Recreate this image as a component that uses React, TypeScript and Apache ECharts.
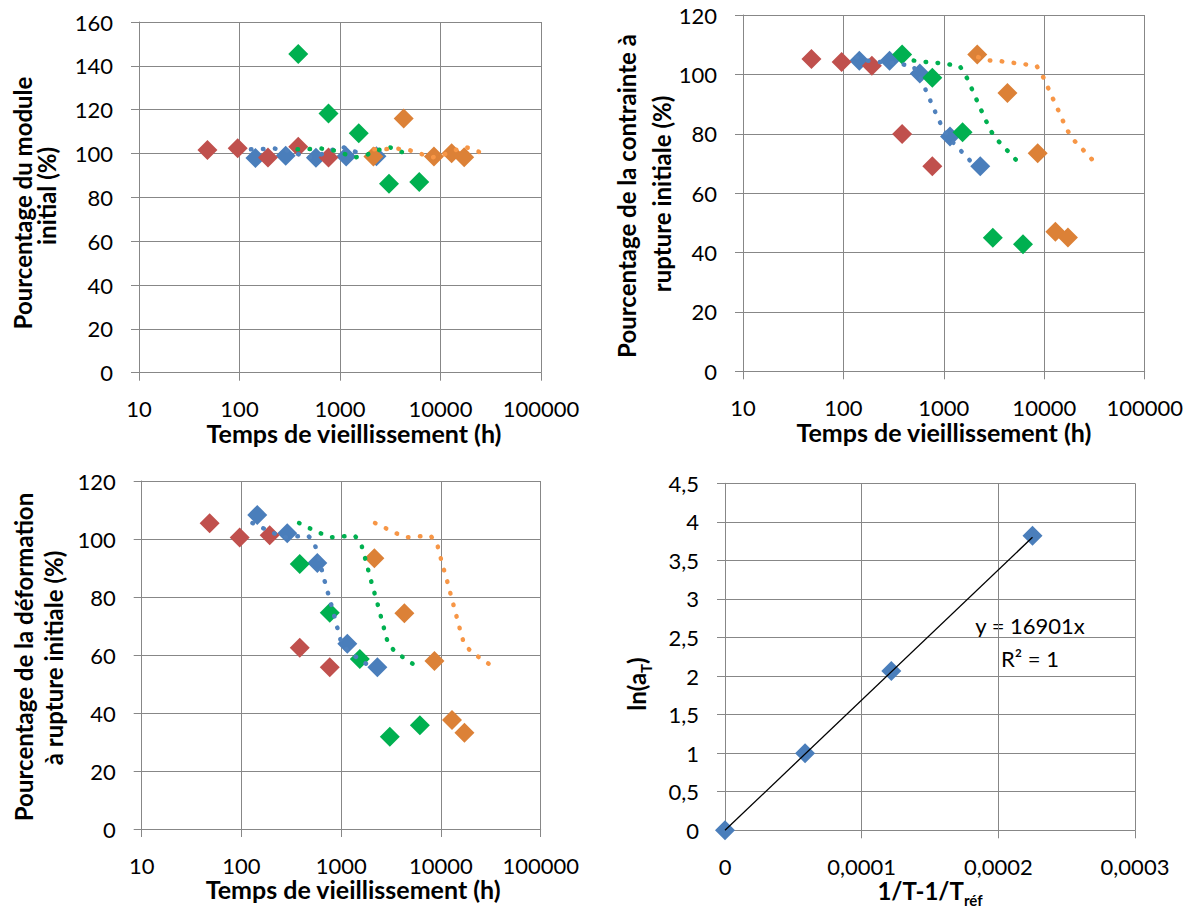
import React, { useEffect, useRef } from "react";
import * as echarts from "echarts";

// ---- data: aging times (h) per series ----
const timeRed = [48, 96, 192, 384, 768];
const timeBlue = [144, 288, 576, 1152, 2304];
const timeGreen = [384, 768, 1536, 3072, 6144];
const timeOrange = [2150, 4300, 8600, 12900, 17200];

// ---- panel 1: % initial modulus ----
const moduleRed = [101.6, 102.4, 98.2, 103.1, 98.2];
const moduleBlue = [97.9, 99.0, 98.1, 98.6, 98.8];
const moduleGreen = [145.4, 118.3, 109.2, 86.2, 87.0];
const moduleOrange = [98.6, 116.0, 98.6, 100.1, 98.3];
const moduleCurveBlue = [[130, 101.9], [169, 102.0], [220, 102.3], [288, 101.6], [375, 99.9], [488, 98.2], [640, 99.5], [820, 101.5], [1040, 103.1], [1337, 101.3], [1710, 99.3]];
const moduleCurveGreen = [[378, 101.9], [491, 102.0], [643, 102.3], [838, 101.6], [1090, 99.9], [1420, 98.2], [1860, 99.5], [2390, 101.5], [3030, 103.1], [3890, 101.1], [5010, 99.3]];
const moduleCurveOrange = [[2200, 101.9], [2850, 102.0], [3720, 102.2], [4860, 101.6], [6310, 99.9], [8250, 98.2], [10800, 99.5], [13900, 101.5], [17540, 103.1], [22540, 101.3], [29040, 99.3]];

// ---- panel 2: % initial stress at break ----
const stressRed = [105.2, 104.2, 102.9, 79.9, 69.1];
const stressBlue = [104.6, 104.6, 100.3, 79.1, 69.1];
const stressGreen = [106.7, 98.9, 80.5, 45.0, 42.8];
const stressOrange = [106.7, 93.7, 73.4, 47.0, 45.1];
const stressCurveBlue = [[135, 105.8], [168, 104.7], [221, 104.2], [291, 103.9], [380, 103.4], [493, 102.8], [566, 99.7], [635, 96.0], [707, 92.4], [786, 88.8], [875, 85.2], [989, 81.5], [1147, 78.2], [1376, 75.4], [1652, 72.5], [1985, 69.6]];
const stressCurveGreen = [[385, 105.8], [490, 104.7], [645, 104.2], [850, 103.9], [1110, 103.4], [1440, 102.8], [1650, 99.7], [1850, 96.0], [2060, 92.4], [2290, 88.8], [2570, 85.2], [2860, 81.5], [3340, 78.2], [4010, 75.4], [4820, 72.5], [5790, 69.6]];
const stressCurveOrange = [[2200, 105.8], [2860, 104.7], [3770, 104.4], [4900, 103.9], [6400, 103.4], [8420, 102.8], [9570, 99.7], [10740, 96.0], [11960, 92.4], [13420, 88.8], [14940, 85.2], [16750, 81.5], [19220, 78.2], [23110, 75.4], [27790, 72.5], [33370, 69.6]];

// ---- panel 3: % initial strain at break ----
const strainRed = [105.4, 100.5, 101.3, 62.5, 55.8];
const strainBlue = [108.3, 102.0, 91.7, 63.9, 55.8];
const strainGreen = [91.4, 74.6, 58.6, 31.8, 35.8];
const strainOrange = [93.4, 74.4, 57.9, 37.6, 33.2];
const strainCurveBlue = [[129, 105.5], [165, 103.7], [211, 102.0], [270, 100.6], [356, 100.9], [467, 101.1], [536, 98.9], [579, 94.8], [621, 90.9], [665, 87.0], [713, 83.1], [769, 79.2], [824, 75.3], [883, 71.4], [946, 67.5], [1014, 63.6], [1219, 60.8], [1525, 58.5], [1921, 56.2]];
const strainCurveGreen = [[378, 105.5], [483, 103.7], [618, 102.0], [791, 100.6], [1042, 100.9], [1365, 101.1], [1567, 98.9], [1692, 94.8], [1814, 90.9], [1944, 87.0], [2083, 83.1], [2250, 79.2], [2411, 75.3], [2583, 71.4], [2768, 67.5], [2966, 63.6], [3566, 60.8], [4464, 58.5], [5626, 56.2]];
const strainCurveOrange = [[2183, 105.5], [2793, 103.7], [3540, 102.0], [4537, 100.6], [5984, 100.9], [7820, 101.1], [9060, 98.9], [9710, 94.8], [10400, 90.9], [11240, 87.0], [12040, 83.1], [12900, 79.2], [13830, 75.3], [14820, 71.4], [15880, 67.5], [17150, 63.6], [20610, 60.8], [25810, 58.5], [32500, 56.2]];

// ---- panel 4: shift factors ----
const invTemp = [0, 0.0000586, 0.0001217, 0.000225];
const lnAT = [0, 1.0, 2.066, 3.82];
const trendLine = [[0, 0], [0.000225, 3.8]];
const trendEquation = "y = 16901x";
const trendR2 = "R² = 1";

const C_BLUE = "#4a7ebb";
const C_RED = "#c0504d";
const C_GREEN = "#00b050";
const C_ORANGE = "#dc8137";
const L_BLUE = "#4f81bd";
const L_GREEN = "#00b050";
const L_ORANGE = "#f79646";
const GRID = "#878787";
const FONT = "Lato";

const pairs = (xs: number[], ys: number[]) => xs.map((x, i) => [x, ys[i]]);

const scatter = (i: number, data: number[][], color: string) => ({
  type: "scatter",
  xAxisIndex: i,
  yAxisIndex: i,
  data,
  symbol: "diamond",
  symbolSize: 20,
  itemStyle: { color, opacity: 1 },
  z: 3,
  silent: true,
});

const curve = (i: number, data: number[][], color: string) => ({
  type: "line",
  xAxisIndex: i,
  yAxisIndex: i,
  data,
  symbol: "none",
  showSymbol: false,
  lineStyle: { color, width: 4.5, type: [0.5, 11.5], cap: "round" },
  z: 4,
  silent: true,
});

const lineStyle = { color: GRID, width: 1 };

const logX = (i: number, shift: number) => ({
  type: "log",
  gridIndex: i,
  logBase: 10,
  min: 10,
  max: 100000,
  axisLine: { show: true, lineStyle },
  axisTick: { show: true, length: 8, lineStyle },
  splitLine: { show: true, lineStyle },
  axisLabel: { color: "#000", fontFamily: FONT, fontSize: 22, margin: 25, formatter: (v: number) => String(Math.round(v)) },
  name: "Temps de vieillissement (h)",
  nameLocation: "middle",
  nameGap: 35,
  nameTextStyle: { color: "#000", fontFamily: FONT, fontSize: 25, fontWeight: "bold", padding: [0, 0, 0, shift] },
});

const valY = (i: number, max: number, interval: number, fmt?: (v: number) => string) => ({
  type: "value",
  gridIndex: i,
  min: 0,
  max,
  interval,
  axisLine: { show: true, lineStyle },
  axisTick: { show: true, length: 8, lineStyle },
  splitLine: { show: true, lineStyle },
  axisLabel: { color: "#000", fontFamily: FONT, fontSize: 22, margin: 26, formatter: fmt },
});

const vText = (x: number, y: number, text: string) => ({
  type: "text",
  x,
  y,
  rotation: Math.PI / 2,
  style: { text, fontFamily: FONT, fontSize: 24, fontWeight: "bold", fill: "#000", align: "center", verticalAlign: "middle" },
  silent: true,
});

export default function App() {
  const ref = useRef<HTMLDivElement>(null);
  useEffect(() => {
    if (!ref.current) return;
    const chart = echarts.init(ref.current, undefined, { renderer: "svg" });
    const option: any = {
      animation: false,
      backgroundColor: "#fff",
      textStyle: { fontFamily: FONT },
      grid: [
        { left: 139, top: 22, width: 402, height: 350.7 },
        { left: 743, top: 15, width: 401.7, height: 356.3 },
        { left: 141.7, top: 481, width: 399, height: 348 },
        { left: 725, top: 483.3, width: 410, height: 347 },
      ],
      xAxis: [
        logX(0, 28),
        logX(1, 0),
        logX(2, 24),
        {
          type: "value",
          gridIndex: 3,
          min: 0,
          max: 0.0003,
          interval: 0.0001,
          axisLine: { show: true, onZero: true, lineStyle },
          axisTick: { show: true, length: 8, lineStyle },
          splitLine: { show: true, lineStyle },
          axisLabel: {
            color: "#000",
            fontFamily: FONT,
            fontSize: 22,
            margin: 25,
            formatter: (v: number) => (v === 0 ? "0" : v.toFixed(4).replace(".", ",")),
          },
          name: "{m|1/T-1/T}{s|réf}",
          nameLocation: "middle",
          nameGap: 37,
          nameTextStyle: {
            rich: {
              m: { fontFamily: FONT, fontSize: 24, fontWeight: "bold", color: "#000", verticalAlign: "bottom", padding: [0, 0, 5, 0] },
              s: { fontFamily: FONT, fontSize: 15, fontWeight: "bold", color: "#000", verticalAlign: "bottom" },
            },
          },
        },
      ],
      yAxis: [
        valY(0, 160, 20),
        valY(1, 120, 20),
        valY(2, 120, 20),
        valY(3, 4.5, 0.5, (v: number) => String(v).replace(".", ",")),
      ],
      series: [
        scatter(0, pairs(timeBlue, moduleBlue), C_BLUE),
        scatter(0, pairs(timeRed, moduleRed), C_RED),
        scatter(0, pairs(timeGreen, moduleGreen), C_GREEN),
        scatter(0, pairs(timeOrange, moduleOrange), C_ORANGE),
        curve(0, moduleCurveBlue, L_BLUE),
        curve(0, moduleCurveGreen, L_GREEN),
        curve(0, moduleCurveOrange, L_ORANGE),

        scatter(1, pairs(timeBlue, stressBlue), C_BLUE),
        scatter(1, pairs(timeRed, stressRed), C_RED),
        scatter(1, pairs(timeGreen, stressGreen), C_GREEN),
        scatter(1, pairs(timeOrange, stressOrange), C_ORANGE),
        curve(1, stressCurveBlue, L_BLUE),
        curve(1, stressCurveGreen, L_GREEN),
        curve(1, stressCurveOrange, L_ORANGE),

        scatter(2, pairs(timeBlue, strainBlue), C_BLUE),
        scatter(2, pairs(timeRed, strainRed), C_RED),
        scatter(2, pairs(timeGreen, strainGreen), C_GREEN),
        scatter(2, pairs(timeOrange, strainOrange), C_ORANGE),
        curve(2, strainCurveBlue, L_BLUE),
        curve(2, strainCurveGreen, L_GREEN),
        curve(2, strainCurveOrange, L_ORANGE),

        scatter(3, pairs(invTemp, lnAT), C_BLUE),
        {
          type: "line",
          xAxisIndex: 3,
          yAxisIndex: 3,
          data: trendLine,
          symbol: "none",
          lineStyle: { color: "#000", width: 1.3 },
          z: 4,
          silent: true,
        },
      ],
      graphic: [
        vText(22, 203, "Pourcentage du module"),
        vText(46, 196, "initial (%)"),
        vText(626, 196, "Pourcentage de la contrainte à"),
        vText(661, 194, "rupture initiale (%)"),
        vText(23, 657, "Pourcentage de la déformation"),
        vText(53, 658, "à rupture initiale (%)"),
        {
          type: "text",
          x: 639,
          y: 684,
          rotation: Math.PI / 2,
          style: {
            text: "{m|ln(a}{s|T}{m|)}",
            align: "center",
            verticalAlign: "middle",
            rich: {
              m: { fontFamily: FONT, fontSize: 24, fontWeight: "bold", fill: "#000", verticalAlign: "bottom", padding: [0, 0, 5, 0] },
              s: { fontFamily: FONT, fontSize: 15, fontWeight: "bold", fill: "#000", verticalAlign: "bottom" },
            },
          },
          silent: true,
        },
        {
          type: "text",
          x: 1030,
          y: 625,
          style: { text: trendEquation, fontFamily: FONT, fontSize: 22, fill: "#000", align: "center", verticalAlign: "middle" },
          silent: true,
        },
        {
          type: "text",
          x: 1030,
          y: 658,
          style: { text: trendR2, fontFamily: FONT, fontSize: 22, fill: "#000", align: "center", verticalAlign: "middle" },
          silent: true,
        },
      ],
    };
    chart.setOption(option);
    return () => chart.dispose();
  }, []);
  return <div ref={ref} style={{ position: "fixed", left: 0, top: 0, width: 1194, height: 910, background: "#fff" }} />;
}
